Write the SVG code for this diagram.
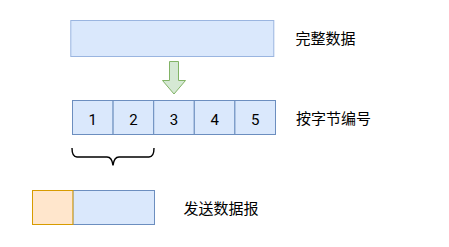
<svg xmlns="http://www.w3.org/2000/svg" width="449" height="247" viewBox="0 0 449 247">
<style>
.blue{fill:#dae8fc;stroke:#6c8ebf;stroke-width:1}
.orange{fill:#ffe6cc;stroke:#d79b00;stroke-width:1}
.lbl{font-family:"Noto Sans CJK SC","Liberation Sans",sans-serif;font-size:15px;fill:#000}
.num{font-family:Roboto,"Liberation Sans",sans-serif;font-size:15px;fill:#000;text-anchor:middle}
</style>
<rect width="449" height="247" fill="#fff"/>
<g id="full-data">
<rect class="blue" x="70.8" y="20.5" width="203" height="36" style="stroke:#9ab5e0"/>
<text class="lbl" x="295.5" y="44">完整数据</text>
</g>
<g id="connectors">
<path d="M169.5 61.5 H178.5 V80.5 H185.5 L174 94 L162.5 80.5 H169.5 Z" fill="#d5e8d4" stroke="#82b366" stroke-width="1"/>
<path d="M72 148 Q72 157 77 157 H107 Q112 157 113 165.5 Q114 157 119 157 H149 Q154 157 154 148" fill="none" stroke="#000" stroke-width="1.4"/>
</g>
<g id="bytes">
<rect class="blue" x="72.5" y="100.5" width="40.6" height="34"/>
<rect class="blue" x="113.1" y="100.5" width="40.6" height="34"/>
<rect class="blue" x="153.7" y="100.5" width="40.6" height="34"/>
<rect class="blue" x="194.3" y="100.5" width="40.6" height="34"/>
<rect class="blue" x="234.9" y="100.5" width="40.6" height="34"/>
<text class="num" x="92.8" y="124.5">1</text>
<text class="num" x="133.4" y="124.5">2</text>
<text class="num" x="174" y="124.5">3</text>
<text class="num" x="214.6" y="124.5">4</text>
<text class="num" x="255.2" y="124.5">5</text>
<text class="lbl" x="296" y="124">按字节编号</text>
</g>
<g id="datagram">
<rect class="blue" x="72.9" y="190.5" width="81.6" height="34"/>
<rect class="orange" x="32.5" y="190.5" width="40.4" height="34"/>
<text class="lbl" x="183.5" y="214">发送数据报</text>
</g>
</svg>
